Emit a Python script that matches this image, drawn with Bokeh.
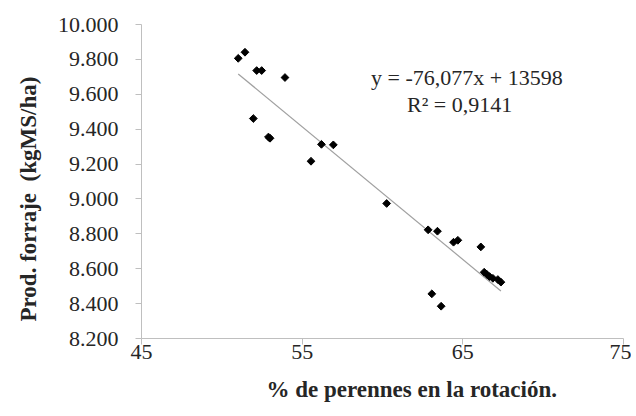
import math
from bokeh.plotting import figure
from bokeh.models import Range1d, FixedTicker, CustomJSTickFormatter, Label, ColumnDataSource, Title
from bokeh.embed import file_html
from bokeh.resources import INLINE

# data
perennes = [51.02, 51.44, 52.17, 52.48, 53.93, 51.96, 52.90, 53.00, 55.55, 56.20,
            56.94, 60.26, 62.84, 63.42, 64.42, 64.69, 66.12, 66.33, 66.50, 66.66,
            66.87, 67.18, 67.37, 63.07, 63.65]
forraje = [9806, 9841, 9736, 9736, 9696, 9461, 9355, 9348, 9216, 9313,
           9310, 8974, 8823, 8815, 8752, 8763, 8725, 8580, 8567, 8555,
           8545, 8538, 8523, 8456, 8385]
slope = -76.077
intercept = 13598
eq_text = "y = -76,077x + 13598"
r2_text = "R² = 0,9141"
x_title = "% de perennes en la rotación."
y_title = "Prod. forraje \u00a0(kgMS/ha)"
x_ticks = [45, 55, 65, 75]
y_ticks = [8200, 8400, 8600, 8800, 9000, 9200, 9400, 9600, 9800, 10000]

FONT = "Liberation Serif"
TXT = "#262626"

p = figure(width=630, height=416, output_backend="svg", toolbar_location=None,
           x_range=Range1d(45, 75), y_range=Range1d(8200, 10000),
           min_border_left=140, min_border_right=8, min_border_top=24, min_border_bottom=78)
p.frame_width = 482
p.frame_height = 314
p.outline_line_color = None
p.xgrid.visible = False
p.ygrid.visible = False
p.background_fill_color = "white"
p.border_fill_color = "white"

for ax in (p.xaxis[0], p.yaxis[0]):
    ax.axis_line_color = "#bfbfbf"
    ax.major_tick_line_color = "#bfbfbf"
    ax.minor_tick_line_color = None
    ax.major_tick_in = 0
    ax.major_tick_out = 6
    ax.major_label_text_font = FONT
    ax.major_label_text_font_size = "22px"
    ax.major_label_text_color = TXT

p.xaxis.ticker = FixedTicker(ticks=x_ticks)
p.yaxis.ticker = FixedTicker(ticks=y_ticks)
p.yaxis.formatter = CustomJSTickFormatter(code="return (tick/1000).toFixed(3);")
p.xaxis.major_label_standoff = 0
p.yaxis.major_label_standoff = 17

# trendline
x0, x1 = min(perennes), max(perennes)
p.line([x0, x1], [slope * x0 + intercept, slope * x1 + intercept],
       line_color="#a0a0a0", line_width=1.2)

src = ColumnDataSource(dict(x=perennes, y=forraje))
p.scatter("x", "y", source=src, marker="square", size=5.5, angle=math.pi / 4,
          fill_color="black", line_color="black")

p.add_layout(Label(x=65.25, y=9696, text=eq_text, text_font=FONT, text_font_size="22px",
                   text_color=TXT, text_align="center", text_baseline="middle"))
p.add_layout(Label(x=64.8, y=9540, text=r2_text, text_font=FONT, text_font_size="22px",
                   text_color=TXT, text_align="center", text_baseline="middle"))

# axis titles
p.add_layout(Title(text=x_title, text_font=FONT, text_font_size="23px",
                   text_font_style="bold", text_color=TXT, align="left",
                   offset=125, standoff=26), "below")
p.add_layout(Title(text=y_title, text_font=FONT, text_font_size="23px",
                   text_font_style="bold", text_color=TXT, align="left",
                   offset=17, standoff=27), "left")

open("out.html", "w").write(file_html(p, INLINE))
